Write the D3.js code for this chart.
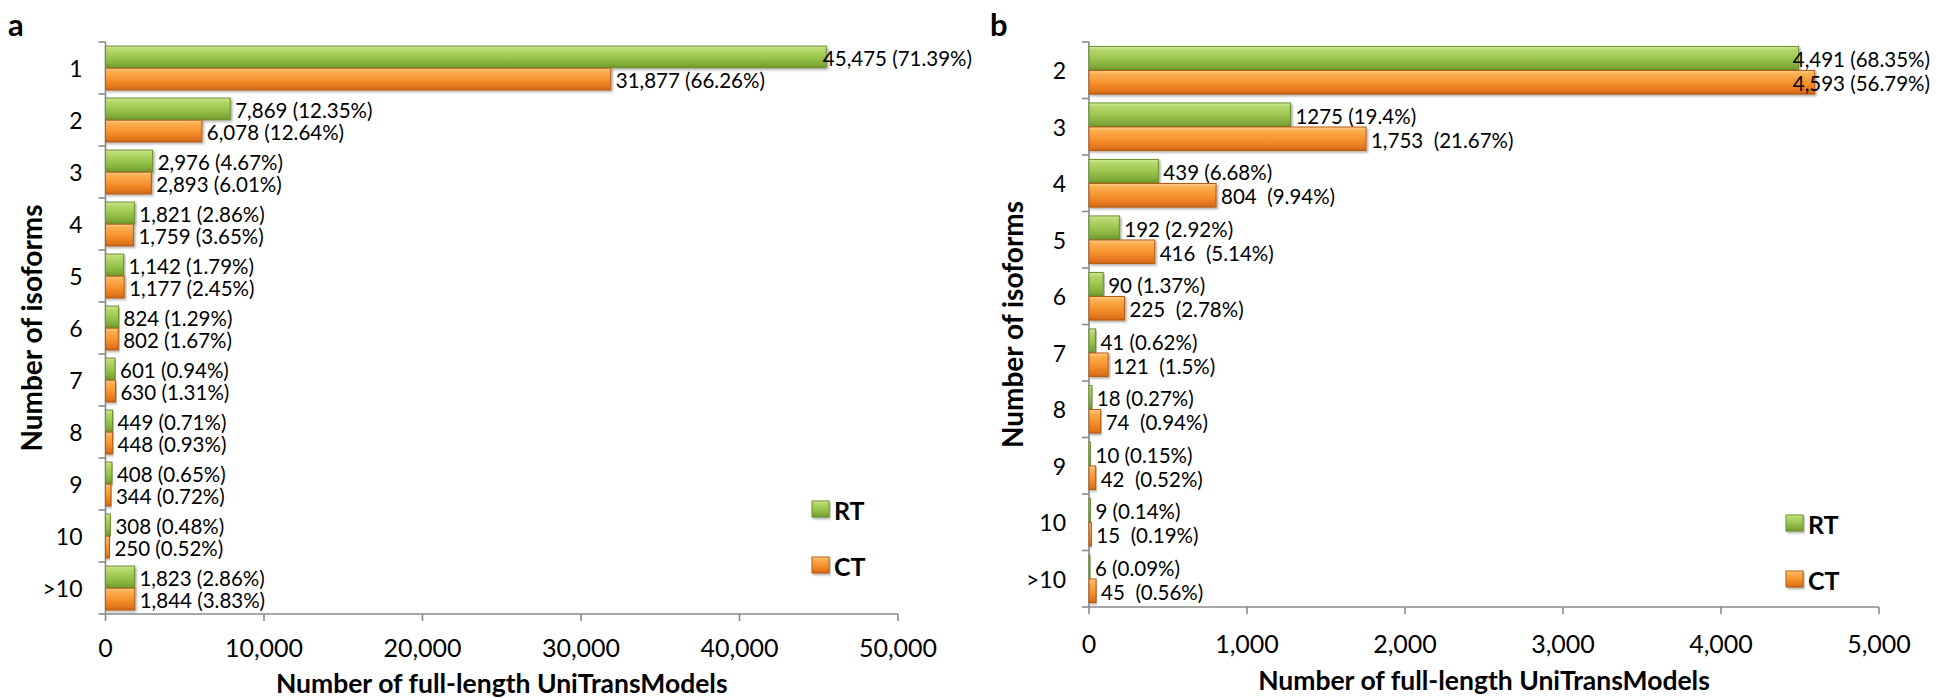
<!DOCTYPE html>
<html>
<head>
<meta charset="utf-8">
<script src="https://cdn.jsdelivr.net/npm/d3@7"></script>
<style>
  html, body { margin: 0; padding: 0; background: #fff; }
  svg text { font-family: Lato, "Open Sans", sans-serif; fill: #000; }
</style>
</head>
<body>
<svg id="chart" width="1946" height="698"></svg>
<script>
// ---------- data ----------
const categoriesA = ["1", "2", "3", "4", "5", "6", "7", "8", "9", "10", ">10"];
const rtValuesA = [45475, 7869, 2976, 1821, 1142, 824, 601, 449, 408, 308, 1823];
const ctValuesA = [31877, 6078, 2893, 1759, 1177, 802, 630, 448, 344, 250, 1844];
const rtLabelsA = ["45,475 (71.39%)", "7,869 (12.35%)", "2,976 (4.67%)", "1,821 (2.86%)", "1,142 (1.79%)", "824 (1.29%)", "601 (0.94%)", "449 (0.71%)", "408 (0.65%)", "308 (0.48%)", "1,823 (2.86%)"];
const ctLabelsA = ["31,877 (66.26%)", "6,078 (12.64%)", "2,893 (6.01%)", "1,759 (3.65%)", "1,177 (2.45%)", "802 (1.67%)", "630 (1.31%)", "448 (0.93%)", "344 (0.72%)", "250 (0.52%)", "1,844 (3.83%)"];
const ticksA = [0, 10000, 20000, 30000, 40000, 50000];

const categoriesB = ["2", "3", "4", "5", "6", "7", "8", "9", "10", ">10"];
const rtValuesB = [4491, 1275, 439, 192, 90, 41, 18, 10, 9, 6];
const ctValuesB = [4593, 1753, 804, 416, 225, 121, 74, 42, 15, 45];
const rtLabelsB = ["4,491 (68.35%)", "1275 (19.4%)", "439 (6.68%)", "192 (2.92%)", "90 (1.37%)", "41 (0.62%)", "18 (0.27%)", "10 (0.15%)", "9 (0.14%)", "6 (0.09%)"];
const ctLabelsB = ["4,593 (56.79%)", "1,753  (21.67%)", "804  (9.94%)", "416  (5.14%)", "225  (2.78%)", "121  (1.5%)", "74  (0.94%)", "42  (0.52%)", "15  (0.19%)", "45  (0.56%)"];
const ticksB = [0, 1000, 2000, 3000, 4000, 5000];

const seriesNames = ["RT", "CT"];
const xTitle = "Number of full-length UniTransModels";
const yTitle = "Number of isoforms";

// ---------- drawing ----------
const svg = d3.select("#chart");
const defs = svg.append("defs");

function grad(id, stops) {
  const g = defs.append("linearGradient").attr("id", id)
    .attr("x1", 0).attr("y1", 0).attr("x2", 0).attr("y2", 1);
  stops.forEach(s => g.append("stop").attr("offset", s[0]).attr("stop-color", s[1]));
}
grad("gGreen", [[0, "#d3eb9a"], [0.15, "#b4d86c"], [0.55, "#98c44a"], [0.9, "#7aa536"], [1, "#6c932c"]]);
grad("gOrange", [[0, "#ffd08e"], [0.15, "#fbb050"], [0.55, "#f6902c"], [0.9, "#e0721b"], [1, "#c86214"]]);
const f = defs.append("filter").attr("id", "shadow").attr("x", "-5%").attr("y", "-20%").attr("width", "115%").attr("height", "160%");
f.append("feDropShadow").attr("dx", 1.5).attr("dy", 1.5).attr("stdDeviation", 1).attr("flood-color", "#000").attr("flood-opacity", 0.35);

const fills = ["url(#gGreen)", "url(#gOrange)"];
const strokes = ["#6a8f2e", "#b55c12"];

function panel(opt) {
  const { cats, rt, ct, rtL, ctL, ticks, x0, x1, yTop, yBot, letter, letterX, legX, legY, tickY, titleY, yTitleX, labelLimit } = opt;
  const g = svg.append("g");
  const x = d3.scaleLinear().domain([ticks[0], ticks[ticks.length - 1]]).range([x0, x1]);
  const y = d3.scaleBand().domain(cats).range([yTop, yBot]).paddingInner(0.14).paddingOuter(0.07);
  const sub = d3.scaleBand().domain(seriesNames).range([0, y.bandwidth()]).padding(0.02);

  // axes
  const yAxisG = g.append("g");
  yAxisG.append("line").attr("x1", x0).attr("x2", x0).attr("y1", yTop).attr("y2", yBot)
    .attr("stroke", "#8a8a8a").attr("stroke-width", 1.6);
  const bounds = d3.range(cats.length + 1).map(i => yTop + i * (yBot - yTop) / cats.length);
  yAxisG.selectAll("line.tk").data(bounds).join("line").attr("class", "tk")
    .attr("x1", x0 - 7).attr("x2", x0).attr("y1", d => d).attr("y2", d => d)
    .attr("stroke", "#8a8a8a").attr("stroke-width", 1.6);
  yAxisG.selectAll("text.cat").data(cats).join("text").attr("class", "cat")
    .attr("x", x0 - 23).attr("y", d => yTop + (cats.indexOf(d) + 0.5) * (yBot - yTop) / cats.length)
    .attr("text-anchor", "end").attr("dominant-baseline", "central")
    .style("font-size", "23px").text(d => d);

  const xAxisG = g.append("g");
  xAxisG.append("line").attr("x1", x0).attr("x2", x1).attr("y1", yBot).attr("y2", yBot)
    .attr("stroke", "#8a8a8a").attr("stroke-width", 1.6);
  xAxisG.selectAll("line.tk").data(ticks).join("line").attr("class", "tk")
    .attr("x1", d => x(d)).attr("x2", d => x(d)).attr("y1", yBot).attr("y2", yBot + 7)
    .attr("stroke", "#8a8a8a").attr("stroke-width", 1.6);
  xAxisG.selectAll("text.tl").data(ticks).join("text").attr("class", "tl")
    .attr("x", d => x(d)).attr("y", tickY).attr("text-anchor", "middle").attr("dominant-baseline", "central")
    .style("font-size", "25px").text(d => d3.format(",")(d));

  // bars
  const rows = cats.map((c, i) => ({ c, vals: [rt[i], ct[i]], labs: [rtL[i], ctL[i]] }));
  rows.forEach(r => {
    r.vals.forEach((v, k) => {
      const by = y(r.c) + sub(seriesNames[k]);
      const bh = sub.bandwidth();
      g.append("rect").attr("x", x0).attr("y", by).attr("width", Math.max(x(v) - x0, 0.8)).attr("height", bh)
        .attr("fill", fills[k]).attr("stroke", strokes[k]).attr("stroke-width", 1)
        .attr("filter", "url(#shadow)");
      const t = g.append("text").attr("x", x(v) + 5).attr("y", by + bh / 2 + 1)
        .attr("dominant-baseline", "central").attr("xml:space", "preserve")
        .style("font-size", "20.5px").style("white-space", "pre").text(r.labs[k]);
      const w = t.node().getComputedTextLength();
      if (x(v) + 5 + w > labelLimit) t.attr("x", labelLimit - w);
    });
  });

  // titles
  g.append("text").attr("x", (x0 + x1) / 2).attr("y", titleY).attr("text-anchor", "middle")
    .attr("dominant-baseline", "central").style("font-size", "26.5px").style("font-weight", "bold").text(xTitle);
  g.append("text").attr("transform", `translate(${yTitleX},${(yTop + yBot) / 2}) rotate(-90)`)
    .attr("text-anchor", "middle").attr("dominant-baseline", "central")
    .style("font-size", "28px").style("font-weight", "bold").text(yTitle);
  g.append("text").attr("x", letterX).attr("y", 24).attr("dominant-baseline", "central")
    .style("font-size", "31px").style("font-weight", "bold").text(letter);

  // legend
  seriesNames.forEach((s, k) => {
    const ly = legY + k * 56;
    g.append("rect").attr("x", legX).attr("y", ly - 8).attr("width", 17).attr("height", 16)
      .attr("fill", fills[k]).attr("stroke", strokes[k]).attr("stroke-width", 1).attr("filter", "url(#shadow)");
    g.append("text").attr("x", legX + 22).attr("y", ly + 1).attr("dominant-baseline", "central")
      .style("font-size", "25px").style("font-weight", "bold").text(s);
  });
}

panel({ cats: categoriesA, rt: rtValuesA, ct: ctValuesA, rtL: rtLabelsA, ctL: ctLabelsA, ticks: ticksA,
  x0: 105.5, x1: 898, yTop: 42, yBot: 614, letter: "a", letterX: 8, legX: 812, legY: 509, tickY: 647, titleY: 683, yTitleX: 31, labelLimit: 972 });
panel({ cats: categoriesB, rt: rtValuesB, ct: ctValuesB, rtL: rtLabelsB, ctL: ctLabelsB, ticks: ticksB,
  x0: 1089, x1: 1879, yTop: 42, yBot: 607, letter: "b", letterX: 990, legX: 1786, legY: 523, tickY: 643, titleY: 680, yTitleX: 1012, labelLimit: 1930 });
</script>
</body>
</html>
